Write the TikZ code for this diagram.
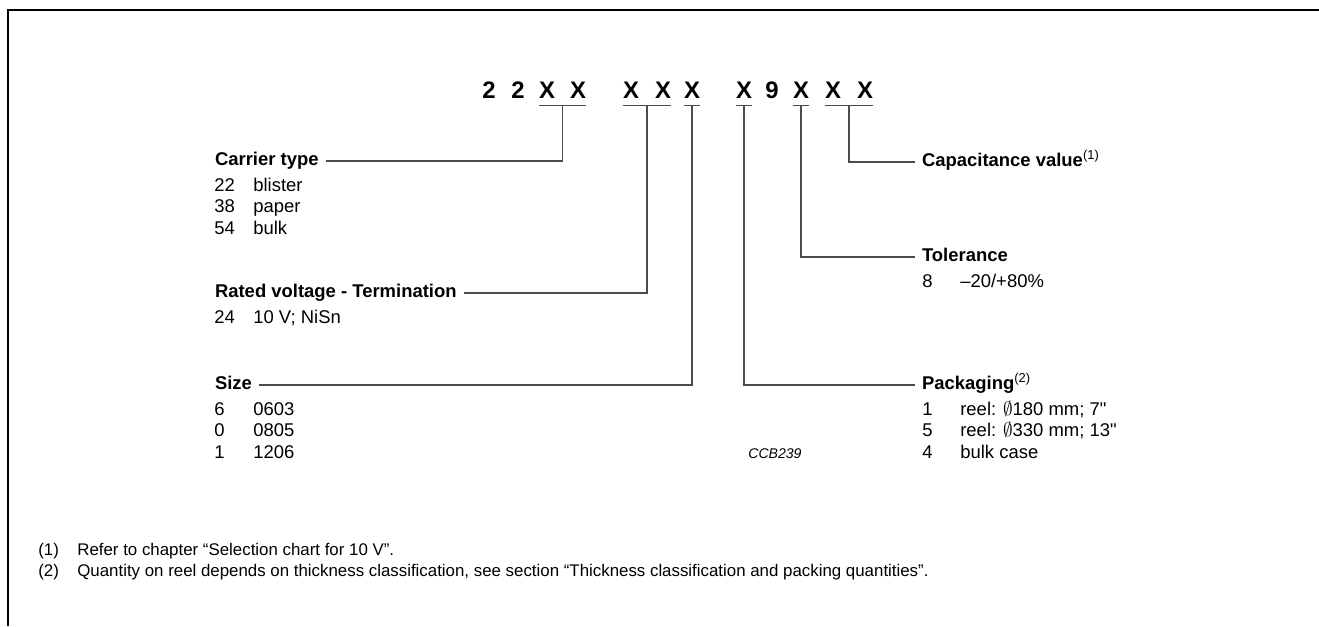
\documentclass[tikz,border=0pt]{standalone}
\usepackage{fontspec}
\setmainfont{Liberation Sans}[Ligatures=TeXOff]
\begin{document}
\begin{tikzpicture}[x=0.02cm, y=-0.02cm,
    lead/.style={draw=black!70, line width=0.6pt},
    code/.style={font=\fontsize{13.6}{16}\selectfont\bfseries, inner sep=0pt, anchor=base},
    head/.style={font=\fontsize{10.5}{12.24}\selectfont\bfseries, inner sep=0pt,
                 outer xsep=4pt, text height=7.5pt, text depth=2.2pt, anchor=west},
    list/.style={font=\fontsize{10.5}{12.24}\selectfont, inner sep=0pt, anchor=base west},
    note/.style={font=\fontsize{9.6}{11.3}\selectfont, inner sep=0pt, anchor=base west}]

    \useasboundingbox (0,0) rectangle (1319,626);
    % outer frame, open at right and bottom
    \draw[line width=1.1pt] (8,626) -- (8,10) -- (1319,10);

    % type number
    \foreach \x/\c [count=\i] in {489/2,518/2,547/X,578/X,631/X,663/X,692/X,744/X,772/9,801/X,833/X,865/X}
        \node[code] (d\i) at (\x,98) {\c};

    % underlined digit groups
    \foreach \a/\b/\u in {3/4/carrierU,5/6/voltageU,7/7/sizeU,8/8/packU,10/10/tolU,11/12/capU}
        \draw[lead] ([yshift=-4.5pt]d\a.base west) -- ([yshift=-4.5pt]d\b.base east)
            coordinate[midway] (\u);

    % left hand fields
    \node[head] (carrier) at (208,161) {Carrier type};
    \node[list] (carrierL) at (214,191) {\begin{tabular}[t]{@{}p{0.78cm}@{}l@{}}
        22 & blister\\ 38 & paper\\ 54 & bulk\end{tabular}};

    \node[head] (voltage) at (208,293) {Rated voltage - Termination};
    \node[list] (voltageL) at (214,323) {\begin{tabular}[t]{@{}p{0.78cm}@{}l@{}}
        24 & 10 V; NiSn\end{tabular}};

    \node[head] (size) at (208,385) {Size};
    \node[list] (sizeL) at (214,415) {\begin{tabular}[t]{@{}p{0.78cm}@{}l@{}}
        6 & 0603\\ 0 & 0805\\ 1 & 1206\end{tabular}};

    % right hand fields
    \node[head] (capval) at (915,162) {Capacitance value\textsuperscript{\mdseries(1)}};

    \node[head] (toler) at (915,257) {Tolerance};
    \node[list] (tolerL) at (922,287) {\begin{tabular}[t]{@{}p{0.76cm}@{}l@{}}
        8 & \textendash20/+80\%\end{tabular}};

    \node[head] (packing) at (915,385) {Packaging\textsuperscript{\mdseries(2)}};
    \node[list] (packingL) at (922,415) {\begin{tabular}[t]{@{}p{0.76cm}@{}l@{}}
        1 & reel: $\emptyset$180 mm; 7"\\ 5 & reel: $\emptyset$330 mm; 13"\\ 4 & bulk case\end{tabular}};

    \node[note, font=\fontsize{8}{9.3}\selectfont\itshape] (ccb) at (748,458) {CCB239};

    % leaders
    \draw[lead] (carrier.east) -| (carrierU);
    \draw[lead] (voltage.east) -| (voltageU);
    \draw[lead] (size.east) -| (sizeU);
    \draw[lead] (packU) |- (packing.west);
    \draw[lead] (tolU) |- (toler.west);
    \draw[lead] (capU) |- (capval.west);

    % notes
    \node[note] (fn1) at (38,555) {\begin{tabular}[t]{@{}p{0.78cm}@{}l@{}}
        (1) & Refer to chapter “Selection chart for 10 V”.\end{tabular}};
    \node[note] (fn2) at (38,576) {\begin{tabular}[t]{@{}p{0.78cm}@{}l@{}}
        (2) & Quantity on reel depends on thickness classification, see section “Thickness classification and packing quantities”.\end{tabular}};
\end{tikzpicture}
\end{document}
